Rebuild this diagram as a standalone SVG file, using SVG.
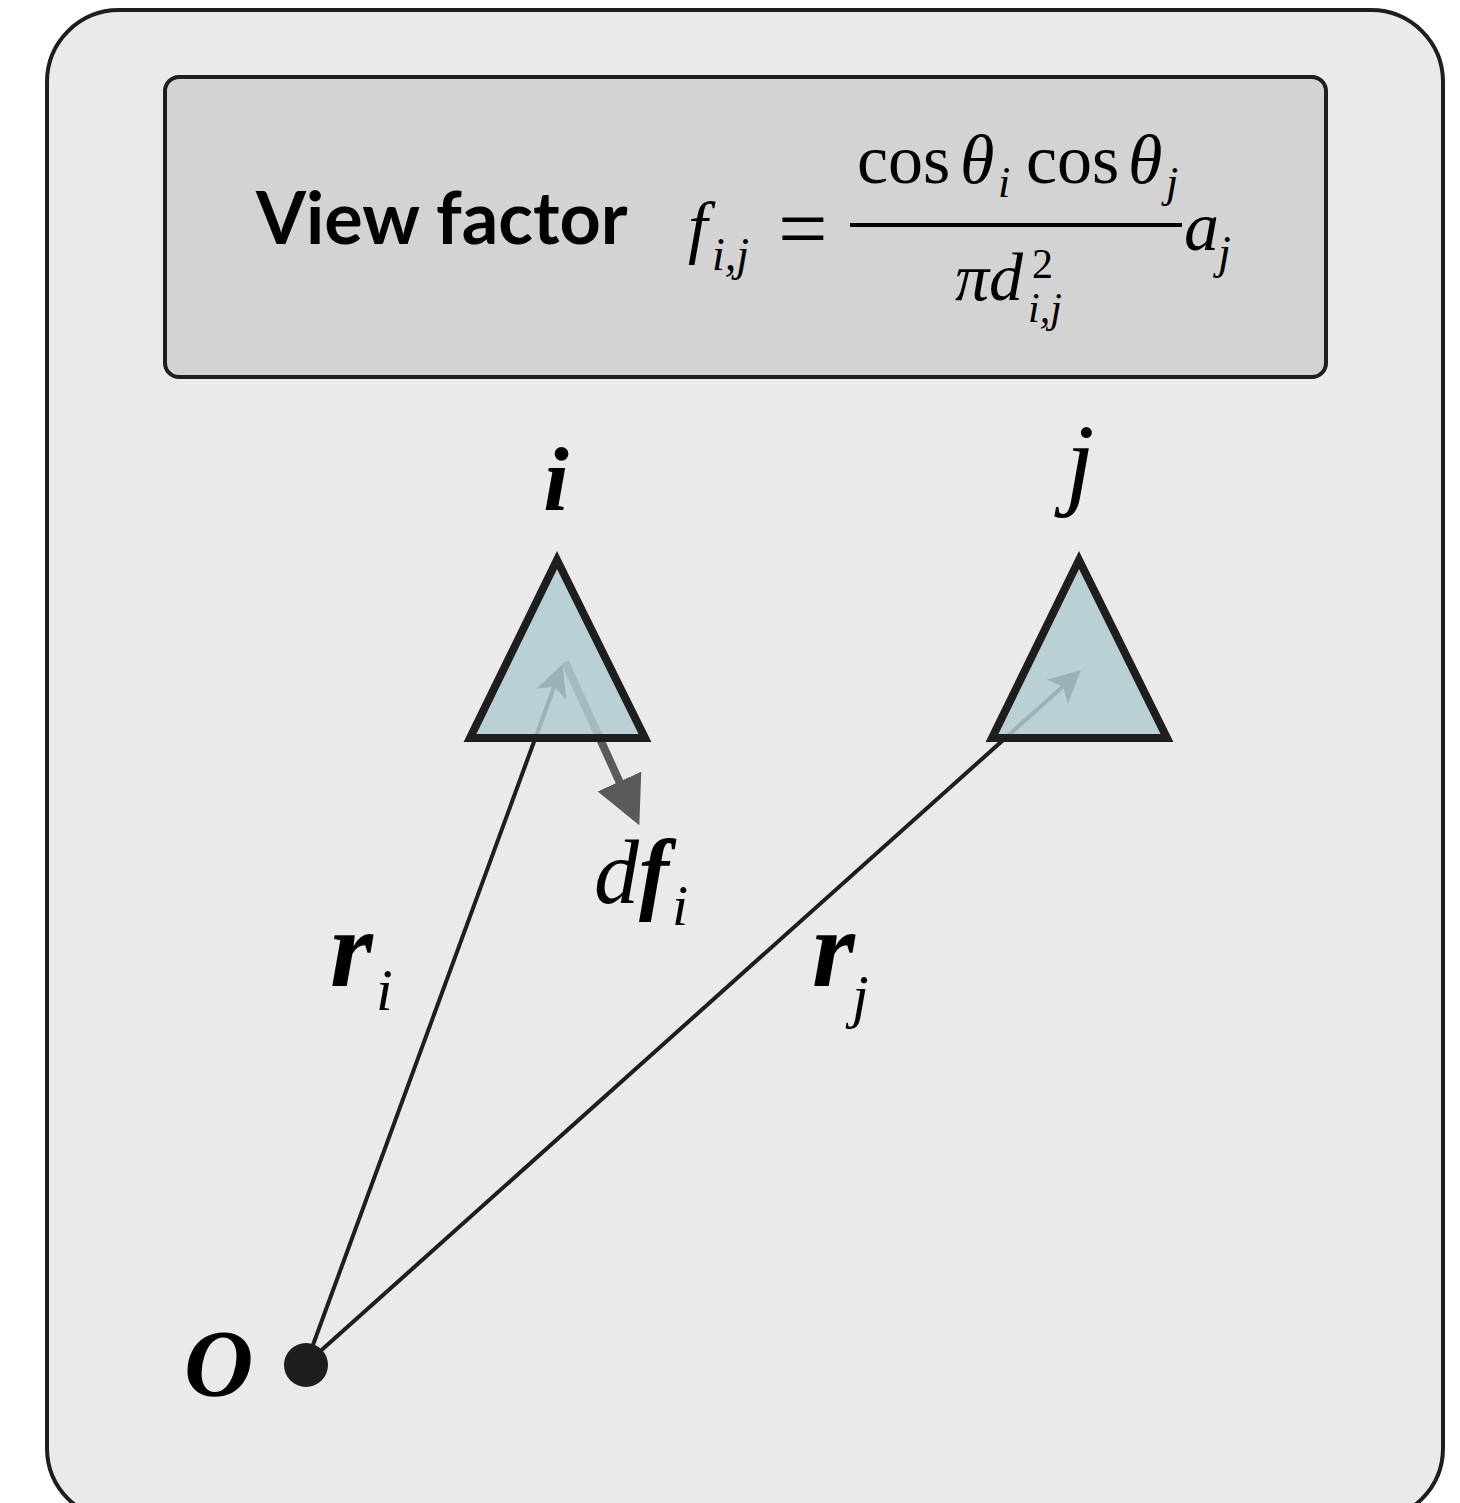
<svg xmlns="http://www.w3.org/2000/svg" width="1460" height="1503" viewBox="0 0 1460 1503">
<style>
.m{font-family:'Liberation Serif',serif;font-style:italic;fill:#000}
.r{font-family:'Liberation Serif',serif;fill:#000}
.b{font-weight:bold}
.tri{fill:#b0cbd1;fill-opacity:0.85;stroke:#1e1e1e;stroke-width:8;stroke-linejoin:miter}
</style>
<defs>
<marker id="ah" markerWidth="8" markerHeight="8" refX="7" refY="4" orient="auto" markerUnits="strokeWidth"><path d="M0,0 L8,4 L0,8 L2,4 Z" fill="#1e1e1e"/></marker>
<marker id="ah2" markerWidth="6" markerHeight="6" refX="5" refY="3" orient="auto" markerUnits="strokeWidth"><path d="M0,0 L6,3 L0,6 Z" fill="#5a5a5a"/></marker>
</defs>
<rect x="0" y="0" width="1460" height="1503" fill="#ffffff"/>
<g id="frame"><rect x="47" y="10" width="1396" height="1510" rx="72" fill="#eaeaea" stroke="#1e1e1e" stroke-width="4"/></g>
<g id="title">
<rect x="165" y="77" width="1161" height="300" rx="14" fill="#d3d3d3" stroke="#1e1e1e" stroke-width="4"/>
<text x="256" y="244" font-family="Lato, sans-serif" font-weight="bold" font-size="72">View factor</text>
<text class="m" x="688" y="250" font-size="70">f</text>
<text class="m" x="712" y="270" font-size="46">i,j</text>
<text class="r" x="778" y="258" font-size="88">=</text>
<line x1="850" y1="225" x2="1182" y2="225" stroke="#000" stroke-width="4"/>
<text class="r" x="857" y="183" font-size="70">cos</text>
<text class="m" x="960" y="183" font-size="70">θ</text>
<text class="m" x="998" y="197" font-size="44">i</text>
<text class="r" x="1026" y="183" font-size="70">cos</text>
<text class="m" x="1128" y="183" font-size="70">θ</text>
<text class="m" x="1166" y="197" font-size="44">j</text>
<text class="m" x="955" y="300" font-size="68">πd</text>
<text class="r" x="1032" y="278" font-size="42">2</text>
<text class="m" x="1028" y="322" font-size="42">i,j</text>
<text class="m" x="1184" y="250" font-size="70">a</text>
<text class="m" x="1218" y="268" font-size="46">j</text>
</g>
<g id="connectors">
<line x1="306" y1="1364" x2="561" y2="668" stroke="#1e1e1e" stroke-width="4" marker-end="url(#ah)"/>
<line x1="306" y1="1364" x2="1078" y2="673" stroke="#1e1e1e" stroke-width="4" marker-end="url(#ah)"/>
<line x1="565" y1="662" x2="636" y2="818" stroke="#5a5a5a" stroke-width="8" marker-end="url(#ah2)"/>
</g>
<g id="node-i">
<polygon class="tri" points="557,560 470,738 645,738"/>
<text class="m b" x="556" y="510" font-size="92" text-anchor="middle">i</text>
</g>
<g id="node-j">
<polygon class="tri" points="1079,560 992,738 1167,738"/>
<text class="m" x="1080" y="496" font-size="104" text-anchor="middle">j</text>
</g>
<g id="origin">
<circle cx="306" cy="1365" r="22" fill="#1e1e1e"/>
<text class="m b" x="184" y="1396" font-size="96">O</text>
</g>
<g id="labels">
<text class="m b" x="330" y="986" font-size="110">r</text>
<text class="m" x="376" y="1010" font-size="60">i</text>
<text class="m b" x="812" y="986" font-size="110">r</text>
<text class="m" x="852" y="1016" font-size="60">j</text>
<text class="m" x="594" y="903" font-size="90">d<tspan class="b">f</tspan></text>
<text class="m" x="672" y="925" font-size="58">i</text>
</g>
</svg>
